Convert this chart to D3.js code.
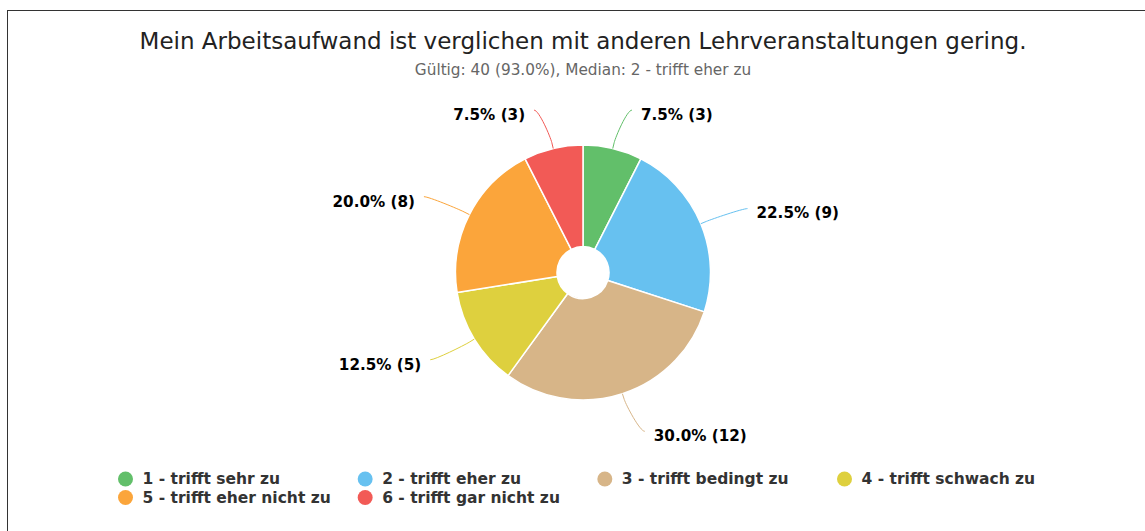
<!DOCTYPE html>
<html>
<head>
<meta charset="utf-8">
<script src="https://cdn.jsdelivr.net/npm/d3@7"></script>
<style>
  html, body { margin: 0; padding: 0; background: #fff; }
  svg { display: block; font-family: "DejaVu Sans", sans-serif; }
</style>
</head>
<body>
<svg id="chart" width="1145" height="531"></svg>
<script>
const titleText = "Mein Arbeitsaufwand ist verglichen mit anderen Lehrveranstaltungen gering.";
const subtitleText = "Gültig: 40 (93.0%), Median: 2 - trifft eher zu";
const categories = ["1 - trifft sehr zu", "2 - trifft eher zu", "3 - trifft bedingt zu",
                    "4 - trifft schwach zu", "5 - trifft eher nicht zu", "6 - trifft gar nicht zu"];
const counts = [3, 9, 12, 5, 8, 3];
const colors = ["#62bf6a", "#67c1f0", "#d7b588", "#ded03e", "#fba53b", "#f25a56"];

const W = 1145, H = 531;
const svg = d3.select("#chart");

// frame
svg.append("line").attr("x1", 7).attr("x2", W).attr("y1", 10.5).attr("y2", 10.5)
  .attr("stroke", "#333").attr("stroke-width", 1);
svg.append("line").attr("x1", 7.5).attr("x2", 7.5).attr("y1", 10).attr("y2", H)
  .attr("stroke", "#333").attr("stroke-width", 1);

// titles
svg.append("text").attr("x", 583).attr("y", 49).attr("text-anchor", "middle")
  .attr("font-size", 23).attr("fill", "#222").text(titleText);
svg.append("text").attr("x", 583).attr("y", 75).attr("text-anchor", "middle")
  .attr("font-size", 15.3).attr("fill", "#666").text(subtitleText);

const cx = 583, cy = 272.5, R = 127.5, r0 = 26;
const total = d3.sum(counts);
const data = categories.map((c, i) => ({ cat: c, value: counts[i], color: colors[i] }));

const pie = d3.pie().value(d => d.value).sort(null);
const arcs = pie(data);
const arc = d3.arc().innerRadius(r0).outerRadius(R);

const g = svg.append("g").attr("transform", `translate(${cx},${cy})`);
g.selectAll("path.slice").data(arcs).enter().append("path")
  .attr("class", "slice")
  .attr("d", arc)
  .attr("fill", d => d.data.color)
  .attr("stroke", "#fff").attr("stroke-width", 1.5).attr("stroke-linejoin", "round");

// labels with soft connectors
const pct = d3.format(".1f");
const labelRx = 172, labelRy = 167, breakDist = 6, topPush = 4;
arcs.forEach(a => {
  const ang = (a.startAngle + a.endAngle) / 2;
  const sx = Math.sin(ang), sy = -Math.cos(ang);
  const right = sx >= 0;
  const sgn = right ? 1 : -1;
  const edge = [R * sx, R * sy];
  const brk = [(R + breakDist) * sx, (R + breakDist) * sy];
  const end = [labelRx * sx + sgn * topPush * sy * sy, labelRy * sy];
  const endX = end[0] + sgn * 5;
  const c1 = [2 * brk[0] - edge[0], 2 * brk[1] - edge[1]];
  const p = d3.path();
  p.moveTo(edge[0], edge[1]);
  p.lineTo(brk[0], brk[1]);
  p.bezierCurveTo(c1[0], c1[1], end[0], end[1], endX, end[1]);
  g.append("path").attr("d", p.toString()).attr("fill", "none")
    .attr("stroke", a.data.color).attr("stroke-width", 1);
  g.append("text")
    .attr("x", end[0] + sgn * 14)
    .attr("y", end[1] + 4.5)
    .attr("dy", "0.35em")
    .attr("text-anchor", right ? "start" : "end")
    .attr("font-size", 15.2).attr("font-weight", "bold").attr("fill", "#000")
    .text(`${pct(a.data.value / total * 100)}% (${a.data.value})`);
});

// legend
const legendX = d3.scalePoint().domain([0, 1, 2, 3]).range([125.5, 844.5]);
const legend = svg.append("g");
data.forEach((d, i) => {
  const col = i % 4, row = Math.floor(i / 4);
  const x = legendX(col), y = 479 + row * 18.5;
  legend.append("circle").attr("cx", x).attr("cy", y).attr("r", 7.5).attr("fill", d.color);
  legend.append("text").attr("x", x + 17).attr("y", y).attr("dy", "0.35em")
    .attr("font-size", 15.5).attr("font-weight", "bold").attr("fill", "#333").text(d.cat);
});
</script>
</body>
</html>
